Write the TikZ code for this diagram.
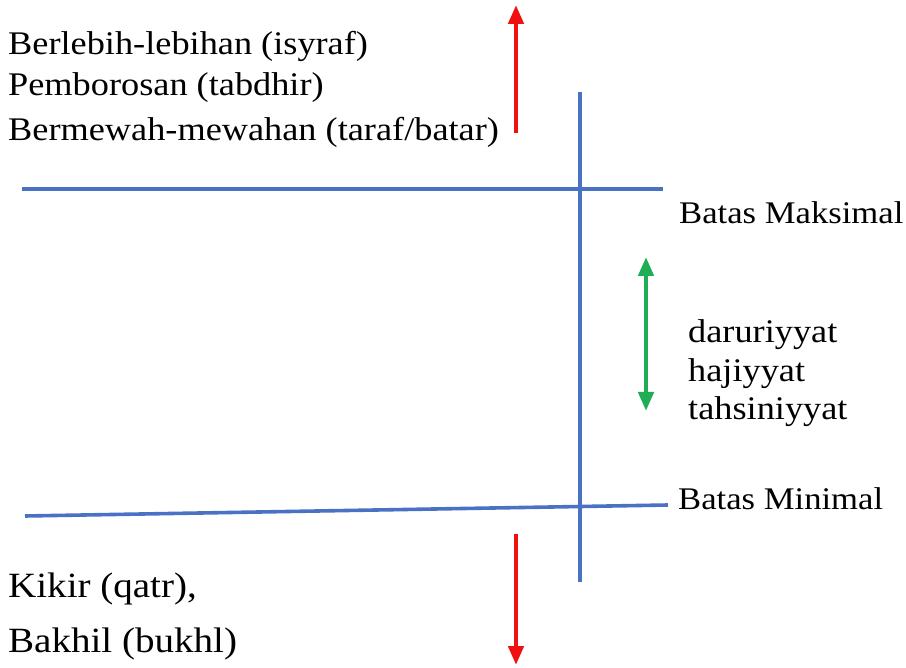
\documentclass[tikz,border=0pt]{standalone}
\usepackage{fontspec}
\setmainfont[FakeStretch=1.1]{Liberation Serif}
\usetikzlibrary{arrows.meta}
\definecolor{lineblue}{HTML}{4A72C4}
\definecolor{arrowred}{HTML}{F01010}
\definecolor{arrowgreen}{HTML}{1FAE55}
\tikzset{
  limitline/.style={draw=lineblue, line width=3.6pt},
  redarrow/.style={draw=arrowred, line width=4.5pt, -{Triangle[width=15pt,length=19pt]}},
  greenarrow/.style={draw=arrowgreen, line width=4.5pt, {Triangle[width=15pt,length=19pt]}-{Triangle[width=15pt,length=19pt]}},
  label/.style={anchor=base west, inner sep=0pt, font=\fontsize{33}{38}\selectfont},
  smalllabel/.style={label, font=\fontsize{31.5}{36}\selectfont},
  biglabel/.style={label, font=\fontsize{35.5}{40}\selectfont}
}
\begin{document}
\begin{tikzpicture}[x=1pt, y=-1pt]
  \useasboundingbox (0,0) rectangle (906,668);
  \fill[white] (0,0) rectangle (906,668);

  % limit lines and the vertical axis
  \coordinate (maxL) at (22,189);
  \coordinate (maxR) at (663,189);
  \coordinate (minL) at (25,516);
  \coordinate (minR) at (668,505);
  \coordinate (axT) at (580,92);
  \coordinate (axB) at (580,582);
  \draw[limitline] (maxL) -- (maxR);
  \draw[limitline] (minL) -- (minR);
  \draw[limitline] (axT) -- (axB);

  % arrows
  \coordinate (upS) at (516,133);
  \coordinate (upE) at (516,5);
  \coordinate (dnS) at (516,534);
  \coordinate (dnE) at (516,665);
  \coordinate (gT) at (646,257);
  \coordinate (gB) at (646,411);
  \draw[redarrow] (upS) -- (upE);
  \draw[redarrow] (dnS) -- (dnE);
  \draw[greenarrow] (gB) -- (gT);

  % texts
  \node[label] (t1) at (8,55) {Berlebih-lebihan (isyraf)};
  \node[label] (t2) at (8,96) {Pemborosan (tabdhir)};
  \node[label] (t3) at (8,141) {Bermewah-mewahan (taraf/batar)};
  \node[smalllabel] (bmax) at (679,224) {Batas Maksimal};
  \node[label] (d1) at (688,343) {daruriyyat};
  \node[label] (d2) at (688,382) {hajiyyat};
  \node[label] (d3) at (688,420) {tahsiniyyat};
  \node[smalllabel] (bmin) at (678,510) {Batas Minimal};
  \node[biglabel] (k1) at (8,597) {Kikir (qatr),};
  \node[biglabel] (k2) at (8,652) {Bakhil (bukhl)};
\end{tikzpicture}
\end{document}
